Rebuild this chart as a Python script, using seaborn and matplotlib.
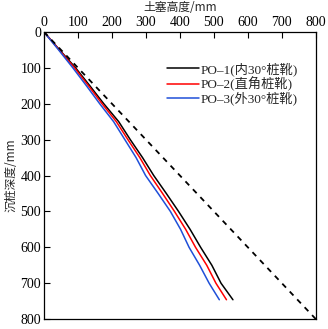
import matplotlib
matplotlib.use("Agg")
import matplotlib.pyplot as plt
import seaborn as sns
import pandas as pd

sns.set_theme(style="white")
plt.rcParams['font.family'] = ['Liberation Serif', 'Noto Sans CJK SC']

depth = [0, 50, 100, 150, 200, 250, 300, 350, 400, 450, 500, 550, 600, 650, 700, 746]
po1 = [0, 46, 93, 135, 176, 220, 254, 290, 323, 360, 396, 430, 461, 494, 521, 556]
po2 = [0, 45, 90, 131, 171, 213, 247, 282, 313, 349, 384, 417, 446, 479, 506, 537]
po3 = [0, 43, 85, 125, 164, 205, 238, 271, 299, 336, 372, 402, 427, 458, 486, 516]
ref_x = [0, 800]
ref_y = [0, 800]
labels = ["PO–1(内30°桩靴)", "PO–2(直角桩靴)", "PO–3(外30°桩靴)"]
colors = ["black", "red", "#1f4fd8"]
ticks = [0, 100, 200, 300, 400, 500, 600, 700, 800]

rows = []
for lab, vals in zip(labels, [po1, po2, po3]):
    for d, h in zip(depth, vals):
        rows.append({"h": h, "d": d, "s": lab})
df = pd.DataFrame(rows)

fig = plt.figure(figsize=(3.28, 3.29), dpi=100)
ax = fig.add_axes([0.134, 0.030, 0.829, 0.873])
sns.lineplot(data=df, x="h", y="d", hue="s", palette=colors, sort=False,
             estimator=None, linewidth=1.1, ax=ax)
ax.plot(ref_x, ref_y, color="black", linestyle=(0, (3, 3)), linewidth=1.3)

ax.set_xlim(0, 800)
ax.set_ylim(800, 0)
ax.set_xticks(ticks)
ax.set_yticks(ticks)
ax.xaxis.tick_top()
ax.xaxis.set_label_position("top")
ax.tick_params(axis="both", direction="in", length=4, width=0.8, labelsize=10,
               pad=2, colors="black")
ax.tick_params(axis="x", top=True, bottom=False)
ax.tick_params(axis="y", left=True, right=False)
ax.set_xlabel("土塞高度/mm", fontsize=8.5, labelpad=4,
              family=['Noto Sans CJK SC', 'Liberation Serif'])
ax.set_ylabel("沉桩深度/mm", fontsize=8.5, labelpad=2,
              family=['Noto Sans CJK SC', 'Liberation Serif'])
for sp in ax.spines.values():
    sp.set_color("black")
    sp.set_linewidth(0.9)

leg = ax.legend(loc="upper left", bbox_to_anchor=(0.452, 0.895), frameon=False,
                handlelength=2.4, handletextpad=0.15,
                labelspacing=0.05, borderaxespad=0.0, borderpad=0.0,
                prop={'family': ['Liberation Serif', 'Noto Sans CJK SC'], 'size': 9.5})
fig.savefig("out.png", dpi=100)
